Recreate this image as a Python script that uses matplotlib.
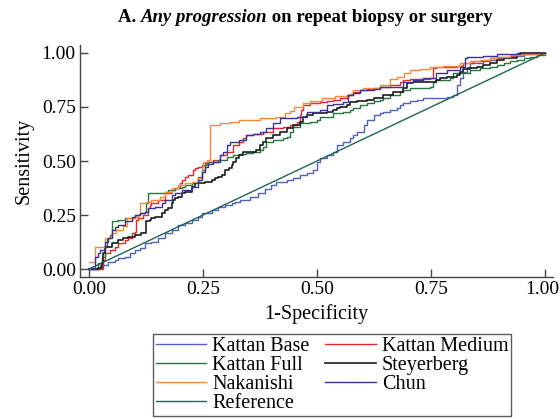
import matplotlib
matplotlib.use('Agg')
import matplotlib.pyplot as plt
import matplotlib.transforms as mtransforms
from matplotlib.offsetbox import TextArea, HPacker, AnchoredOffsetbox

plt.rcParams['font.family'] = ['Liberation Serif', 'DejaVu Serif']

# ROC curves: (1-specificity, sensitivity) at each step
kattan_base = [(0, 0), (0.024, 0.019), (0.042, 0.034), (0.057, 0.042), (0.064, 0.05), (0.079, 0.057),
               (0.09, 0.073), (0.101, 0.088), (0.112, 0.096), (0.123, 0.119), (0.137, 0.127), (0.152, 0.142),
               (0.167, 0.165), (0.181, 0.181), (0.196, 0.204), (0.211, 0.212), (0.225, 0.227), (0.24, 0.242),
               (0.247, 0.258), (0.269, 0.273), (0.284, 0.289), (0.298, 0.296), (0.313, 0.304), (0.32, 0.312),
               (0.331, 0.32), (0.353, 0.335), (0.37, 0.35), (0.385, 0.37), (0.40, 0.39), (0.411, 0.405),
               (0.434, 0.413), (0.448, 0.42), (0.463, 0.435), (0.477, 0.443), (0.492, 0.458), (0.499, 0.497),
               (0.507, 0.512), (0.521, 0.528), (0.536, 0.543), (0.543, 0.574), (0.558, 0.59), (0.572, 0.605),
               (0.58, 0.62), (0.587, 0.636), (0.602, 0.667), (0.609, 0.69), (0.624, 0.713), (0.638, 0.721),
               (0.645, 0.728), (0.66, 0.736), (0.675, 0.744), (0.682, 0.76), (0.689, 0.767), (0.704, 0.778),
               (0.719, 0.782), (0.733, 0.79), (0.748, 0.793), (0.785, 0.798), (0.799, 0.806), (0.806, 0.852),
               (0.814, 0.883), (0.82, 0.914), (0.828, 0.937), (0.836, 0.952), (0.865, 0.968), (0.894, 0.978),
               (0.923, 0.986), (0.953, 0.994), (1.0, 1.0)]

kattan_medium = [(0, 0), (0.0314, 0.042), (0.035, 0.073), (0.046, 0.088), (0.057, 0.104), (0.064, 0.119),
                 (0.079, 0.134), (0.086, 0.142), (0.0936, 0.165), (0.101, 0.173), (0.104, 0.227), (0.108, 0.235),
                 (0.119, 0.25), (0.13, 0.281), (0.134, 0.296), (0.137, 0.304), (0.152, 0.319), (0.167, 0.35),
                 (0.181, 0.366), (0.189, 0.373), (0.199, 0.397), (0.203, 0.412), (0.211, 0.427), (0.218, 0.435),
                 (0.229, 0.458), (0.232, 0.466), (0.24, 0.474), (0.247, 0.482), (0.258, 0.497), (0.273, 0.505),
                 (0.287, 0.528), (0.302, 0.543), (0.316, 0.574), (0.33, 0.586), (0.338, 0.605), (0.345, 0.62),
                 (0.36, 0.623), (0.382, 0.636), (0.404, 0.651), (0.426, 0.659), (0.441, 0.667), (0.456, 0.682),
                 (0.463, 0.713), (0.466, 0.736), (0.47, 0.759), (0.485, 0.767), (0.507, 0.775), (0.521, 0.778),
                 (0.536, 0.782), (0.551, 0.79), (0.565, 0.806), (0.58, 0.821), (0.594, 0.829), (0.609, 0.833),
                 (0.624, 0.836), (0.638, 0.844), (0.66, 0.852), (0.682, 0.867), (0.689, 0.875), (0.704, 0.88),
                 (0.748, 0.883), (0.755, 0.929), (0.762, 0.937), (0.806, 0.941), (0.82, 0.952), (0.843, 0.963),
                 (0.879, 0.975), (0.894, 0.983), (0.923, 0.988), (0.938, 0.994), (0.967, 0.998), (1.0, 1.0)]

kattan_full = [(0, 0), (0.0205, 0.026), (0.028, 0.057), (0.035, 0.104), (0.039, 0.142), (0.046, 0.158),
               (0.0497, 0.22), (0.064, 0.227), (0.079, 0.235), (0.101, 0.25), (0.112, 0.258), (0.123, 0.265),
               (0.126, 0.304), (0.13, 0.35), (0.167, 0.358), (0.174, 0.366), (0.189, 0.373), (0.203, 0.381),
               (0.211, 0.389), (0.225, 0.397), (0.24, 0.427), (0.247, 0.458), (0.254, 0.489), (0.262, 0.497),
               (0.284, 0.505), (0.302, 0.52), (0.316, 0.528), (0.33, 0.531), (0.345, 0.536), (0.36, 0.543),
               (0.375, 0.551), (0.382, 0.566), (0.389, 0.59), (0.404, 0.597), (0.426, 0.605), (0.434, 0.613),
               (0.441, 0.636), (0.448, 0.659), (0.463, 0.674), (0.485, 0.682), (0.499, 0.69), (0.507, 0.705),
               (0.536, 0.721), (0.558, 0.728), (0.572, 0.736), (0.58, 0.744), (0.594, 0.759), (0.609, 0.767),
               (0.624, 0.778), (0.638, 0.782), (0.645, 0.79), (0.66, 0.806), (0.682, 0.821), (0.689, 0.829),
               (0.704, 0.836), (0.726, 0.84), (0.748, 0.844), (0.755, 0.867), (0.762, 0.875), (0.792, 0.883),
               (0.799, 0.906), (0.836, 0.921), (0.858, 0.929), (0.879, 0.937), (0.894, 0.944), (0.909, 0.952),
               (0.923, 0.963), (0.938, 0.968), (0.953, 0.975), (0.967, 0.983), (0.982, 0.99), (1.0, 1.0)]

steyerberg = [(0, 0), (0.0205, 0.003), (0.028, 0.026), (0.0314, 0.073), (0.035, 0.104), (0.0497, 0.119),
              (0.064, 0.134), (0.075, 0.142), (0.086, 0.15), (0.101, 0.158), (0.115, 0.165), (0.126, 0.22),
              (0.134, 0.227), (0.137, 0.235), (0.145, 0.242), (0.16, 0.258), (0.167, 0.273), (0.174, 0.281),
              (0.181, 0.304), (0.185, 0.319), (0.189, 0.327), (0.196, 0.335), (0.203, 0.35), (0.211, 0.358),
              (0.225, 0.381), (0.232, 0.397), (0.254, 0.404), (0.269, 0.412), (0.276, 0.42), (0.284, 0.427),
              (0.291, 0.435), (0.298, 0.458), (0.306, 0.466), (0.313, 0.481), (0.316, 0.497), (0.323, 0.512),
              (0.33, 0.528), (0.338, 0.543), (0.367, 0.551), (0.375, 0.574), (0.382, 0.59), (0.389, 0.605),
              (0.404, 0.62), (0.419, 0.636), (0.434, 0.651), (0.448, 0.667), (0.463, 0.682), (0.47, 0.705),
              (0.477, 0.713), (0.492, 0.721), (0.521, 0.728), (0.536, 0.736), (0.543, 0.744), (0.551, 0.752),
              (0.565, 0.759), (0.572, 0.775), (0.587, 0.778), (0.609, 0.782), (0.624, 0.79), (0.645, 0.806),
              (0.667, 0.821), (0.689, 0.836), (0.697, 0.86), (0.711, 0.867), (0.762, 0.875), (0.77, 0.883),
              (0.785, 0.89), (0.806, 0.898), (0.814, 0.914), (0.82, 0.926), (0.836, 0.929), (0.85, 0.937),
              (0.865, 0.944), (0.879, 0.952), (0.894, 0.968), (0.909, 0.975), (0.938, 0.99), (0.945, 0.998),
              (1.0, 1.0)]

nakanishi = [(0, 0.034), (0.013, 0.104), (0.035, 0.142), (0.046, 0.15), (0.05, 0.165), (0.06, 0.18),
             (0.075, 0.2), (0.083, 0.234), (0.101, 0.242), (0.108, 0.25), (0.112, 0.304), (0.126, 0.312),
             (0.137, 0.319), (0.156, 0.335), (0.167, 0.358), (0.181, 0.373), (0.196, 0.389), (0.211, 0.397),
             (0.225, 0.404), (0.24, 0.42), (0.247, 0.474), (0.25, 0.497), (0.258, 0.505), (0.265, 0.667),
             (0.287, 0.675), (0.309, 0.682), (0.33, 0.69), (0.375, 0.70), (0.41, 0.705), (0.43, 0.72),
             (0.44, 0.73), (0.45, 0.75), (0.47, 0.77), (0.485, 0.78), (0.51, 0.79), (0.54, 0.80), (0.57, 0.81),
             (0.58, 0.83), (0.6, 0.84), (0.638, 0.85), (0.66, 0.88), (0.675, 0.89), (0.69, 0.906), (0.704, 0.92),
             (0.726, 0.925), (0.748, 0.937), (0.777, 0.94), (0.814, 0.952), (0.836, 0.963), (0.858, 0.968),
             (0.879, 0.975), (0.894, 0.983), (0.923, 0.99), (0.95, 0.994), (1.0, 1.0)]

chun = [(0, 0), (0.013, 0.057), (0.0205, 0.073), (0.024, 0.088), (0.035, 0.127), (0.042, 0.142),
        (0.0497, 0.181), (0.057, 0.196), (0.064, 0.204), (0.079, 0.22), (0.094, 0.242), (0.101, 0.25),
        (0.112, 0.258), (0.123, 0.265), (0.13, 0.281), (0.145, 0.289), (0.16, 0.304), (0.167, 0.319),
        (0.181, 0.343), (0.189, 0.35), (0.203, 0.366), (0.225, 0.381), (0.24, 0.412), (0.247, 0.45),
        (0.254, 0.47), (0.262, 0.485), (0.273, 0.497), (0.287, 0.528), (0.294, 0.543), (0.302, 0.574),
        (0.309, 0.59), (0.33, 0.597), (0.345, 0.62), (0.36, 0.623), (0.375, 0.636), (0.389, 0.651),
        (0.404, 0.674), (0.419, 0.698), (0.434, 0.701), (0.456, 0.705), (0.477, 0.728), (0.507, 0.736),
        (0.521, 0.759), (0.536, 0.762), (0.558, 0.775), (0.569, 0.806), (0.58, 0.813), (0.594, 0.829),
        (0.624, 0.833), (0.638, 0.844), (0.689, 0.867), (0.711, 0.875), (0.733, 0.883), (0.762, 0.906),
        (0.785, 0.921), (0.814, 0.937), (0.825, 0.975), (0.828, 0.983), (0.865, 0.985), (0.894, 0.994),
        (0.938, 0.998), (1.0, 1.0)]

reference = [(0, 0), (1, 1)]

curves = [
    ('Kattan Base', kattan_base, '#4f62b8', 1.0),
    ('Kattan Medium', kattan_medium, '#e8262b', 1.0),
    ('Kattan Full', kattan_full, '#23773f', 1.0),
    ('Steyerberg', steyerberg, '#1c1c1c', 1.2),
    ('Nakanishi', nakanishi, '#f7873a', 1.0),
    ('Chun', chun, '#37339a', 1.0),
]
ref_color = '#1d6656'

fig = plt.figure(figsize=(5.6, 4.19), dpi=100)
ax = fig.add_axes([80 / 560, 1 - 277 / 419, (553 - 80) / 560, (277 - 45) / 419])

handles = {}
for name, pts, color, lw in curves:
    xs = [p[0] for p in pts]
    ys = [p[1] for p in pts]
    h, = ax.step(xs, ys, where='post', color=color, lw=lw)
    handles[name] = h
h, = ax.plot([p[0] for p in reference], [p[1] for p in reference], color=ref_color, lw=1.0)
handles['Reference'] = h

ax.set_xlim(-0.0197, 1.0175)
ax.set_ylim(-0.037, 1.037)
ax.set_xticks([0, 0.25, 0.5, 0.75, 1.0])
ax.set_yticks([0, 0.25, 0.5, 0.75, 1.0])
ax.set_xticklabels(['0.00', '0.25', '0.50', '0.75', '1.00'])
ax.set_yticklabels(['0.00', '0.25', '0.50', '0.75', '1.00'])
for s in ['top', 'right']:
    ax.spines[s].set_visible(False)
for s in ['left', 'bottom']:
    ax.spines[s].set_color('#444444')
    ax.spines[s].set_linewidth(1.0)
ax.tick_params(direction='in', length=6, width=1.0, color='#444444', labelsize=14, pad=3)
ax.set_xlabel('1-Specificity', fontsize=14.5, labelpad=4)
ax.set_ylabel('Sensitivity', fontsize=14.5, labelpad=6)

# the last x label sits a little left of its tick so it stays inside the figure
last = ax.get_xticklabels()[-1]
last.set_transform(last.get_transform() + mtransforms.ScaledTranslation(-3 / 100, 0, fig.dpi_scale_trans))

# title with italic part
tp = dict(family='Liberation Serif', size=13.5, weight='bold')
parts = [TextArea('A.\u00a0', textprops=tp),
         TextArea('Any progression', textprops=dict(tp, style='italic')),
         TextArea('\u00a0on repeat biopsy or surgery', textprops=tp)]
title_box = HPacker(children=parts, align='baseline', pad=0, sep=0)
fig.add_artist(AnchoredOffsetbox(loc='center', child=title_box, frameon=False, pad=0, borderpad=0,
                                 bbox_to_anchor=(305 / 560, 1 - 17 / 419), bbox_transform=fig.transFigure))

order = ['Kattan Base', 'Kattan Full', 'Nakanishi', 'Reference', 'Kattan Medium', 'Steyerberg', 'Chun']
leg = fig.legend([handles[n] for n in order], order, ncol=2, loc='upper center',
                 bbox_to_anchor=(332 / 560, 1 - 334 / 419), fontsize=14.5, frameon=True, fancybox=False,
                 edgecolor='#333333', handlelength=2.5, labelspacing=0.0, columnspacing=0.8,
                 borderpad=0.15, handletextpad=0.3, borderaxespad=0)
leg.get_frame().set_linewidth(1.0)

fig.savefig('out.png', dpi=100)
